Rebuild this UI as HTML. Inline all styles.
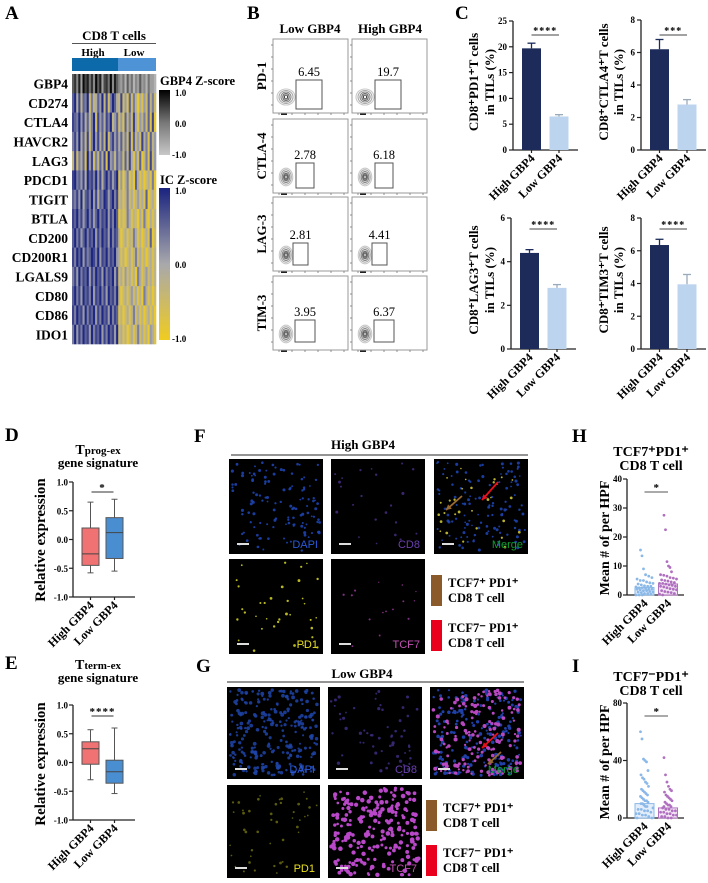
<!DOCTYPE html>
<html><head><meta charset="utf-8"><style>
html,body{margin:0;padding:0;background:#fff;}
svg{display:block;font-family:"Liberation Serif",serif;}
.lt{font-weight:bold;font-size:19px;}
.b{font-weight:bold;}
.tk{font-weight:bold;font-size:9px;}
.fl{font-family:"Liberation Sans",sans-serif;font-size:11px;}
</style></head><body>
<svg id="fig" width="708" height="883" viewBox="0 0 708 883" xmlns="http://www.w3.org/2000/svg">
<defs>
<linearGradient id="gGray" x1="0" y1="0" x2="0" y2="1"><stop offset="0" stop-color="#000"/><stop offset="0.5" stop-color="#777"/><stop offset="1" stop-color="#c8c8c8"/></linearGradient>
<linearGradient id="gIC" x1="0" y1="0" x2="0" y2="1"><stop offset="0" stop-color="#1a237e"/><stop offset="0.5" stop-color="#a8a8ac"/><stop offset="1" stop-color="#f0cc20"/></linearGradient>
</defs>
<text class="lt" x="5" y="19">A</text>
<text class="lt" x="247" y="19">B</text>
<text class="lt" x="455" y="19">C</text>
<text class="lt" x="5" y="441">D</text>
<text class="lt" x="5" y="669">E</text>
<text class="lt" x="194" y="442">F</text>
<text class="lt" x="196" y="672">G</text>
<text class="lt" x="572" y="442">H</text>
<text class="lt" x="572" y="672">I</text>

<text class="b" x="114" y="40" font-size="13" text-anchor="middle">CD8 T cells</text>
<line x1="72" y1="43.5" x2="156" y2="43.5" stroke="#555" stroke-width="1"/>
<text class="b" x="93" y="56" font-size="11" text-anchor="middle">High</text>
<text class="b" x="134" y="56" font-size="11" text-anchor="middle">Low</text>
<rect x="72" y="58" width="46" height="13" fill="#0d6aaa"/>
<rect x="118" y="58" width="38" height="13" fill="#4d93d6"/>
<g id="heat"></g>
<text class="b" x="160" y="85" font-size="12.5">GBP4 Z-score</text>
<rect x="159" y="90" width="11" height="65" fill="url(#gGray)"/>
<text class="tk" x="175" y="96" font-size="10">1.0</text>
<text class="tk" x="175" y="127" font-size="10">0.0</text>
<text class="tk" x="172" y="158" font-size="10">-1.0</text>
<text class="b" x="160" y="184" font-size="12.5">IC Z-score</text>
<rect x="159" y="188" width="11" height="152" fill="url(#gIC)"/>
<text class="tk" x="175" y="194" font-size="10">1.0</text>
<text class="tk" x="175" y="268" font-size="10">0.0</text>
<text class="tk" x="172" y="342" font-size="10">-1.0</text>

<text class="b" x="310" y="33" font-size="13" text-anchor="middle">Low GBP4</text>
<text class="b" x="390" y="33" font-size="13" text-anchor="middle">High GBP4</text>
<g id="flow"></g>

<g id="cbars"></g>
<text class="b" font-size="13" text-anchor="middle" transform="translate(478,82) rotate(-90)">CD8⁺PD1⁺T cells</text>
<text class="b" font-size="13" text-anchor="middle" transform="translate(494,82) rotate(-90)">in TILs (%)</text>
<text class="b" font-size="13" text-anchor="middle" transform="translate(608,82) rotate(-90)">CD8⁺CTLA4⁺T cells</text>
<text class="b" font-size="13" text-anchor="middle" transform="translate(623,82) rotate(-90)">in TILs (%)</text>
<text class="b" font-size="13" text-anchor="middle" transform="translate(478,280) rotate(-90)">CD8⁺LAG3⁺T cells</text>
<text class="b" font-size="13" text-anchor="middle" transform="translate(494,280) rotate(-90)">in TILs (%)</text>
<text class="b" font-size="13" text-anchor="middle" transform="translate(608,280) rotate(-90)">CD8⁺TIM3⁺T cells</text>
<text class="b" font-size="13" text-anchor="middle" transform="translate(623,280) rotate(-90)">in TILs (%)</text>

<text class="b" x="98" y="454" text-anchor="middle"><tspan font-size="14">T</tspan><tspan font-size="11">prog-ex</tspan></text>
<text class="b" x="98" y="467" font-size="13" text-anchor="middle">gene signature</text>
<text class="b" font-size="15" text-anchor="middle" transform="translate(45,540) rotate(-90)">Relative expression</text>
<text class="b" x="98" y="669" text-anchor="middle"><tspan font-size="14">T</tspan><tspan font-size="11">term-ex</tspan></text>
<text class="b" x="98" y="682" font-size="13" text-anchor="middle">gene signature</text>
<text class="b" font-size="15" text-anchor="middle" transform="translate(45,764) rotate(-90)">Relative expression</text>
<g id="boxes"></g>

<text class="b" x="363" y="449" font-size="13" text-anchor="middle">High GBP4</text>
<line x1="231" y1="455" x2="528" y2="455" stroke="#555" stroke-width="1.2"/>
<text class="b" x="362" y="678" font-size="13" text-anchor="middle">Low GBP4</text>
<line x1="227" y1="682" x2="524" y2="682" stroke="#555" stroke-width="1.2"/>
<g id="fluo"></g>
<rect x="431" y="575" width="11" height="31" fill="#8b5a2b"/>
<text class="b" x="448" y="587" font-size="12.5">TCF7⁺ PD1⁺</text>
<text class="b" x="448" y="602" font-size="12.5">CD8 T cell</text>
<rect x="431" y="620" width="11" height="31" fill="#e8001c"/>
<text class="b" x="448" y="632" font-size="12.5">TCF7⁻ PD1⁺</text>
<text class="b" x="448" y="647" font-size="12.5">CD8 T cell</text>
<rect x="426" y="800" width="11" height="31" fill="#8b5a2b"/>
<text class="b" x="443" y="812" font-size="12.5">TCF7⁺ PD1⁺</text>
<text class="b" x="443" y="827" font-size="12.5">CD8 T cell</text>
<rect x="426" y="845" width="11" height="31" fill="#e8001c"/>
<text class="b" x="443" y="857" font-size="12.5">TCF7⁻ PD1⁺</text>
<text class="b" x="443" y="872" font-size="12.5">CD8 T cell</text>

<text class="b" x="651" y="456" font-size="14" text-anchor="middle">TCF7⁺PD1⁺</text>
<text class="b" x="651" y="470" font-size="14" text-anchor="middle">CD8 T cell</text>
<text class="b" font-size="14" text-anchor="middle" transform="translate(609,538) rotate(-90)">Mean # of per HPF</text>
<text class="b" x="651" y="681" font-size="14" text-anchor="middle">TCF7⁻PD1⁺</text>
<text class="b" x="651" y="695" font-size="14" text-anchor="middle">CD8 T cell</text>
<text class="b" font-size="14" text-anchor="middle" transform="translate(609,762) rotate(-90)">Mean # of per HPF</text>
<g id="scat"></g>
</svg>
<script>
const NS='http://www.w3.org/2000/svg';
function mk(tag,attrs,parent){const e=document.createElementNS(NS,tag);for(const k in attrs)e.setAttribute(k,attrs[k]);parent.appendChild(e);return e;}

/* ---------- Panel A data ---------- */
const heatGenes=['GBP4','CD274','CTLA4','HAVCR2','LAG3','PDCD1','TIGIT','BTLA','CD200','CD200R1','LGALS9','CD80','CD86','IDO1'];
const heatValues=[
'5738296847395826749385324152413252314221',
'7948376926347593826974382517263041527362',
'8769584736928574869357251736284153627180',
'6859473826958473926857473628173528461735',
'3826471958263748195637562738415270361825',
'8967584978695847968579150461307413024160',
'7685947869584769857968241362413524170241',
'8796857968579687958697031264132041620413',
'7968579687958697859687302413264130241702',
'8697958679869587968795413024136241302413',
'6859687958697859687958241524130641352413',
'7968597869587968597869302413524130641302',
'8697859687958697859687130241362413024130',
'6958697859687958697859241302413624130541'];

/* ---------- Panel B data ---------- */
const flowMarkers=['PD-1','CTLA-4','LAG-3','TIM-3'];
const flowLowValues=['6.45','2.78','2.81','3.95'];
const flowHighValues=['19.7','6.18','4.41','6.37'];

/* ---------- Panel C data ---------- */
const cCategories=['High GBP4','Low GBP4'];
const cPd1Means=[19.7,6.5], cPd1Err=[20.7,6.85], cPd1Ticks=[0,5,10,15,20,25];
const cCtla4Means=[6.2,2.8], cCtla4Err=[6.8,3.1], cCtla4Ticks=[0,2,4,6,8];
const cLag3Means=[4.4,2.8], cLag3Err=[4.55,2.95], cLag3Ticks=[0,2,4,6];
const cTim3Means=[6.35,3.95], cTim3Err=[6.7,4.55], cTim3Ticks=[0,2,4,6,8];

/* ---------- Panel D/E data: [min, q1, median, q3, max] ---------- */
const boxCategories=['High GBP4','Low  GBP4'];
const dHighStats=[-0.58,-0.45,-0.25,0.2,0.65];
const dLowStats=[-0.55,-0.33,0.12,0.38,0.7];
const eHighStats=[-0.3,-0.03,0.24,0.36,0.57];
const eLowStats=[-0.54,-0.36,-0.16,0.04,0.6];
const boxTicks=['-1.0','-0.5','0.0','0.5','1.0'];

/* ---------- Panel H/I data ---------- */
const scatCategories=['High GBP4','Low  GBP4'];
const hMeans=[2.6,3.8];
const hHighValues=[15.5,13.5,9,7,6.5,6,5.5,5,5,4.5,4.2,4,3.8,3.5,3.2,3,3,2.8,2.5,2.5,2.3,2,2,2,1.8,1.5,1.5,1.2,1,1,0.8,0.5,0.5,0.3,0,0,0];
const hLowValues=[27.5,22.5,11.5,10,9.5,8,7,6.8,6.5,6,5.8,5.5,5.2,5,4.8,4.5,4.3,4,4,3.8,3.5,3.3,3,3,2.8,2.5,2.2,2,1.8,1.5,1.2,1,0.8,0.5,0.3,0];
const hTicks=[0,10,20,30,40];
const iMeans=[10,7];
const iHighValues=[60,55,41,40,39,33,30,28,27,25,24,22,20,19,18,17,16,15,14,13,12,12,11,10,10,9,8,8,7,6,6,5,5,4,3,3,2,2,1,0,0];
const iLowValues=[42,30,25,22,20,19,18,16,15,14,13,12,11,10,9,9,8,8,7,6,6,5,5,4,4,3,3,2,2,1,1,0,0];
const iTicks=[0,40,80];

function lerp(a,b,t){return a.map((v,i)=>Math.round(v+(b[i]-v)*t));}
function rgb(c){return 'rgb('+c.join(',')+')';}
function grayColor(d){return rgb(lerp([200,200,200],[10,10,10],d/9));}
function icColor(d){const t=d/9;return t<0.5?rgb(lerp([232,200,50],[168,168,172],t*2)):rgb(lerp([168,168,172],[30,40,130],(t-0.5)*2));}

(function(){
  const g=document.getElementById('heat');
  const x0=72,y0=74,W=84,H=270,rh=H/heatGenes.length;
  heatGenes.forEach((gene,r)=>{
    const s=heatValues[r],cw=W/s.length;
    for(let c=0;c<s.length;c++){
      const d=+s[c];
      const cell=mk('rect',{x:x0+c*cw,y:y0+r*rh,width:cw+0.3,height:rh+0.3,fill:r===0?grayColor(d):icColor(d)},g);
      
      
    }
    const t=mk('text',{x:68,y:y0+r*rh+rh/2+5,'text-anchor':'end','font-size':'13.5','font-weight':'bold'},g);
    t.textContent=gene;
    
    
  });
})();

(function(){
  const g=document.getElementById('flow');
  const rowsY=[39,119,197,276], colsX=[273,352], bw=75, bh=74;
  const gates=[[23,41,26,29],[23,44,18,25],[20,46,15,22],[22,44,20,22]];
  flowMarkers.forEach((m,r)=>{
    const lab=mk('text',{'font-size':'13','font-weight':'bold','text-anchor':'middle',transform:'translate(266,'+(rowsY[r]+bh/2)+') rotate(-90)'},g);
    lab.textContent=m;
    
    
    colsX.forEach((cx,ci)=>{
      const y=rowsY[r];
      const box=mk('rect',{x:cx,y:y,width:bw,height:bh,fill:'#fff',stroke:'#999','stroke-width':1},g);
      
      
      for(let k=0;k<6;k++){mk('line',{x1:cx+6+k*13,y1:y+bh,x2:cx+6+k*13,y2:y+bh+2,stroke:'#777','stroke-width':0.8},g);
        mk('line',{x1:cx-2,y1:y+6+k*12,x2:cx,y2:y+6+k*12,stroke:'#777','stroke-width':0.8},g);}
      mk('rect',{x:cx+8,y:y+bh+0.5,width:6,height:1.5,fill:'#222'},g);
      const bx=cx+13, by=y+bh-16;
      [[9,8,'#c8c8c8'],[7,6.5,'#a8a8a8'],[5,5,'#888'],[3.2,3.5,'#666'],[1.6,2,'#444']].forEach(e=>{
        const el=mk('ellipse',{cx:bx,cy:by,rx:e[0]*(r===0?1:0.75),ry:e[1]*(r===0?1:1.1),fill:'none',stroke:e[2],'stroke-width':1.1},g);
        
        
      });
      const gt=gates[r];
      const gate=mk('rect',{x:cx+gt[0],y:y+gt[1],width:gt[2],height:gt[3],fill:'none',stroke:'#555','stroke-width':1},g);
      
      
      const v=mk('text',{x:cx+gt[0]+gt[2]/2,y:y+gt[1]-4,'text-anchor':'middle','font-size':'12.5'},g);
      v.textContent=ci===0?flowLowValues[r]:flowHighValues[r];
      
      
    });
  });
})();

function barChart(cfg){
  const g=document.getElementById('cbars');
  const ys=v=>cfg.y0-v/cfg.max*(cfg.y0-cfg.yTop);
  const ax=mk('line',{x1:cfg.ax,y1:cfg.yTop,x2:cfg.ax,y2:cfg.y0,stroke:'#222','stroke-width':1.3},g);
  
  
  const xa=mk('line',{x1:cfg.ax,y1:cfg.y0,x2:cfg.ax+65,y2:cfg.y0,stroke:'#222','stroke-width':1.3},g);
  
  
  cfg.ticks.forEach(t=>{
    mk('line',{x1:cfg.ax-4,y1:ys(t),x2:cfg.ax,y2:ys(t),stroke:'#222','stroke-width':1.2},g);
    const tl=mk('text',{x:cfg.ax-6,y:ys(t)+3,'text-anchor':'end',class:'tk'},g);
    tl.textContent=t;
    
    
  });
  const cols=['#1c2b5a','#bcd4ee'];
  const centers=[];
  cfg.means.forEach((m,i)=>{
    const x=cfg.ax+9+i*27.5, w=19, c=x+w/2; centers.push(c);
    mk('line',{x1:c,y1:ys(m),x2:c,y2:ys(cfg.err[i]),stroke:i?'#9ab':'#1c2b5a','stroke-width':1.3},g);
    mk('line',{x1:c-4,y1:ys(cfg.err[i]),x2:c+4,y2:ys(cfg.err[i]),stroke:i?'#9ab':'#1c2b5a','stroke-width':1.3},g);
    const b=mk('rect',{x:x,y:ys(m),width:w,height:cfg.y0-ys(m),fill:cols[i]},g);
    
    
    mk('line',{x1:c,y1:cfg.y0,x2:c,y2:cfg.y0+3,stroke:'#222','stroke-width':1.2},g);
    const cl=mk('text',{'text-anchor':'end','font-size':'12','font-weight':'bold',transform:'translate('+(c+4)+','+(cfg.y0+9)+') rotate(-45)'},g);
    cl.textContent=cCategories[i];
    
    
  });
  const sl=mk('line',{x1:centers[0],y1:cfg.sigY,x2:centers[1],y2:cfg.sigY,stroke:'#444','stroke-width':1},g);
  
  
  const st=mk('text',{x:(centers[0]+centers[1])/2,y:cfg.sigY-1,'text-anchor':'middle','font-size':'10','font-weight':'bold','letter-spacing':'1'},g);
  st.textContent=cfg.stars;
  
  
}
barChart({name:'c-pd1',ax:513,y0:150,yTop:21,max:25,ticks:cPd1Ticks,means:cPd1Means,err:cPd1Err,sigY:35,stars:'****'});
barChart({name:'c-ctla4',ax:641,y0:150,yTop:20,max:8,ticks:cCtla4Ticks,means:cCtla4Means,err:cCtla4Err,sigY:35,stars:'***'});
barChart({name:'c-lag3',ax:511,y0:349,yTop:218,max:6,ticks:cLag3Ticks,means:cLag3Means,err:cLag3Err,sigY:229,stars:'****'});
barChart({name:'c-tim3',ax:641,y0:349,yTop:218,max:8,ticks:cTim3Ticks,means:cTim3Means,err:cTim3Err,sigY:229,stars:'****'});

function boxChart(cfg){
  const g=document.getElementById('boxes');
  const ys=v=>cfg.y0-(v+1)/2*(cfg.y0-cfg.yTop);
  const ax=mk('line',{x1:cfg.ax,y1:cfg.yTop,x2:cfg.ax,y2:cfg.y0,stroke:'#222','stroke-width':1.3},g);
  
  
  const xa=mk('line',{x1:cfg.ax,y1:cfg.y0,x2:cfg.ax+62,y2:cfg.y0,stroke:'#222','stroke-width':1.3},g);
  
  
  boxTicks.forEach(t=>{
    const v=parseFloat(t);
    mk('line',{x1:cfg.ax-4,y1:ys(v),x2:cfg.ax,y2:ys(v),stroke:'#222','stroke-width':1.2},g);
    const tl=mk('text',{x:cfg.ax-5,y:ys(v)+3.5,'text-anchor':'end',class:'tk','font-size':'10'},g);
    tl.textContent=t;
    
    
  });
  const cols=['#f07272','#4a8ed2'];
  const centers=[];
  cfg.stats.forEach((s,i)=>{
    const x=cfg.ax+9+i*24, w=17, c=x+w/2; centers.push(c);
    mk('line',{x1:c,y1:ys(s[0]),x2:c,y2:ys(s[4]),stroke:'#555','stroke-width':1},g);
    mk('line',{x1:c-3,y1:ys(s[0]),x2:c+3,y2:ys(s[0]),stroke:'#555','stroke-width':1},g);
    mk('line',{x1:c-3,y1:ys(s[4]),x2:c+3,y2:ys(s[4]),stroke:'#555','stroke-width':1},g);
    const b=mk('rect',{x:x,y:ys(s[3]),width:w,height:ys(s[1])-ys(s[3]),fill:cols[i],stroke:'#555','stroke-width':1},g);
    
    
    mk('line',{x1:x,y1:ys(s[2]),x2:x+w,y2:ys(s[2]),stroke:'#444','stroke-width':1},g);
    mk('line',{x1:c,y1:cfg.y0,x2:c,y2:cfg.y0+3,stroke:'#222','stroke-width':1.2},g);
    const cl=mk('text',{'text-anchor':'end','font-size':'12','font-weight':'bold','xml:space':'preserve',transform:'translate('+(c+4)+','+(cfg.y0+9)+') rotate(-45)'},g);
    cl.textContent=boxCategories[i];
    
    
  });
  const sl=mk('line',{x1:centers[0]+1,y1:cfg.sigY,x2:centers[1]-1,y2:cfg.sigY,stroke:'#333','stroke-width':1},g);
  
  
  const st=mk('text',{x:(centers[0]+centers[1])/2,y:cfg.sigY-1,'text-anchor':'middle','font-size':'11','font-weight':'bold','letter-spacing':'1'},g);
  st.textContent=cfg.stars;
  
  
}
boxChart({name:'d',ax:73,y0:597,yTop:482,stats:[dHighStats,dLowStats],sigY:492,stars:'*'});
boxChart({name:'e',ax:73,y0:820,yTop:705,stats:[eHighStats,eLowStats],sigY:716,stars:'****'});

function scatChart(cfg){
  const g=document.getElementById('scat');
  const ys=v=>cfg.y0-v/cfg.max*(cfg.y0-cfg.yTop);
  const ax=mk('line',{x1:cfg.ax,y1:cfg.yTop,x2:cfg.ax,y2:cfg.y0,stroke:'#222','stroke-width':1.3},g);
  
  
  const xa=mk('line',{x1:cfg.ax,y1:cfg.y0,x2:cfg.ax+57,y2:cfg.y0,stroke:'#222','stroke-width':1.3},g);
  
  
  cfg.ticks.forEach(t=>{
    mk('line',{x1:cfg.ax-4,y1:ys(t),x2:cfg.ax,y2:ys(t),stroke:'#222','stroke-width':1.2},g);
    const tl=mk('text',{x:cfg.ax-5,y:ys(t)+3,'text-anchor':'end',class:'tk'},g);
    tl.textContent=t;
    
    
  });
  const cols=['#8ab8e8','#b070c0'], fills=['#e4eefa','#f3e6f5'];
  const centers=[];
  cfg.means.forEach((m,i)=>{
    const x=cfg.ax+8+i*23.5, w=19, c=x+w/2; centers.push(c);
    const b=mk('rect',{x:x,y:ys(m),width:w,height:cfg.y0-ys(m),fill:fills[i],stroke:cols[i],'stroke-width':1},g);
    
    
    cfg.values[i].forEach((v,k)=>{
      const off=(((k*37)%17)-8)/8*(v<8?8.5:4);
      const p=mk('circle',{cx:c+off,cy:ys(v),r:1.4,fill:cols[i]},g);
      
      
    });
    const cl=mk('text',{'text-anchor':'end','font-size':'12','font-weight':'bold','xml:space':'preserve',transform:'translate('+(c+4)+','+(cfg.y0+9)+') rotate(-45)'},g);
    cl.textContent=scatCategories[i];
    
    
  });
  const sl=mk('line',{x1:centers[0],y1:cfg.sigY,x2:centers[1],y2:cfg.sigY,stroke:'#555','stroke-width':1},g);
  
  
  const st=mk('text',{x:(centers[0]+centers[1])/2,y:cfg.sigY-1,'text-anchor':'middle','font-size':'11','font-weight':'bold'},g);
  st.textContent='*';
  
  
}
scatChart({name:'h',ax:627,y0:595,yTop:479,max:40,ticks:hTicks,means:hMeans,values:[hHighValues,hLowValues],sigY:492});
scatChart({name:'i',ax:627,y0:818,yTop:703,max:80,ticks:iTicks,means:iMeans,values:[iHighValues,iLowValues],sigY:716});

(function(){
  const g=document.getElementById('fluo');
  let seed=12345;
  function rnd(){seed=(seed*1103515245+12345)%2147483648;return seed/2147483648;}
  function img(x,y,w,h,layers,label,lcol,name){
    const r=mk('rect',{x:x,y:y,width:w,height:h,fill:'#000'},g);
    
    
    layers.forEach(L=>{for(let k=0;k<L.n;k++){mk('circle',{cx:x+3+rnd()*(w-6),cy:y+3+rnd()*(h-6),r:L.r*(0.7+rnd()*0.6),fill:L.c,opacity:L.o||1},g);}});
    mk('line',{x1:x+8,y1:y+h-10,x2:x+20,y2:y+h-10,stroke:'#ddd','stroke-width':2},g);
    const t=mk('text',{x:x+w-5,y:y+h-6,'text-anchor':'end',fill:lcol,class:'fl'},g);
    t.textContent=label;
    
    
  }
  img(229,459,94,95,[{n:120,r:1.2,c:'#1e48b8',o:0.85}],'DAPI','#2a5ad8','f-dapi-image');
  img(331,459,94,95,[{n:22,r:1.2,c:'#4a2e86',o:0.8}],'CD8','#6a40b0','f-cd8-image');
  img(434,459,94,95,[{n:120,r:1.2,c:'#1e48b8',o:0.85},{n:30,r:1.1,c:'#b8b030'}],'Merge','#10a030','f-merge-image');
  img(229,559,94,95,[{n:35,r:1.1,c:'#b8b820'}],'PD1','#e8e020','f-pd1-image');
  img(331,559,94,95,[{n:16,r:0.9,c:'#803080'}],'TCF7','#c050b0','f-tcf7-image');
  img(227,687,93,92,[{n:260,r:1.5,c:'#1e44a8',o:0.85}],'DAPI','#2a5ad8','g-dapi-image');
  img(328,687,94,92,[{n:60,r:1.3,c:'#3e2c80',o:0.85}],'CD8','#6a40b0','g-cd8-image');
  img(430,687,94,92,[{n:200,r:1.4,c:'#2040a8'},{n:150,r:1.6,c:'#b848c0'}],'Merge','#10a030','g-merge-image');
  img(227,785,93,93,[{n:45,r:1.1,c:'#5a5a10'}],'PD1','#e8e020','g-pd1-image');
  img(328,785,94,93,[{n:220,r:1.8,c:'#b848c8'}],'TCF7','#c050b0','g-tcf7-image');
  const arrows=[[498,482,482,500,'#e8101c'],[462,496,446,510,'#9a6a30'],[498,733,482,748,'#e8101c'],[501,752,488,764,'#9a6a30']];
  arrows.forEach(a=>{
    const l=mk('line',{x1:a[0],y1:a[1],x2:a[2],y2:a[3],stroke:a[4],'stroke-width':1.8},g);
    
    
    const ang=Math.atan2(a[3]-a[1],a[2]-a[0]);
    const p1=[a[2]-6*Math.cos(ang-0.5),a[3]-6*Math.sin(ang-0.5)],p2=[a[2]-6*Math.cos(ang+0.5),a[3]-6*Math.sin(ang+0.5)];
    mk('polygon',{points:a[2]+','+a[3]+' '+p1.join(',')+' '+p2.join(','),fill:a[4]},g);
  });
})();
</script>
</body></html>
